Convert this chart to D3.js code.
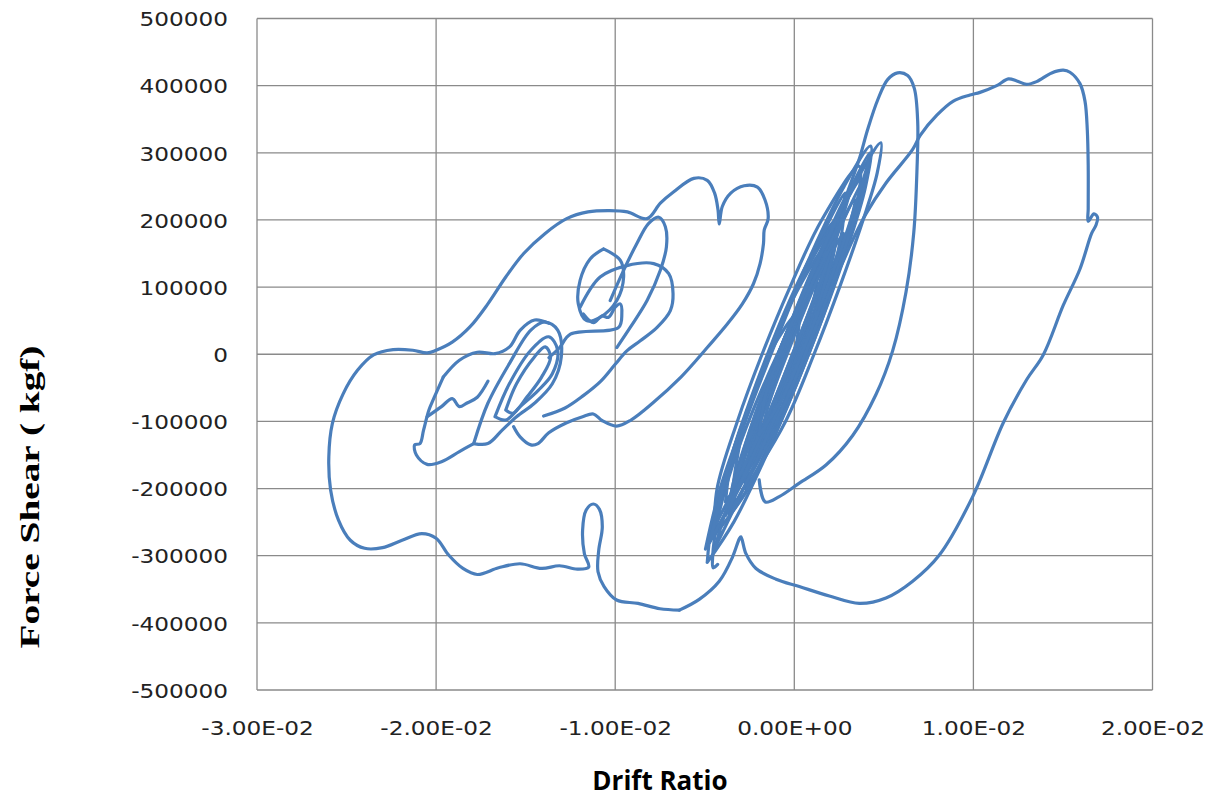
<!DOCTYPE html>
<html>
<head>
<meta charset="utf-8">
<script src="https://cdn.jsdelivr.net/npm/d3@7"></script>
<style>
  body { margin: 0; background: #fff; }
  .tick text { font-family: "DejaVu Sans", Verdana, sans-serif; }
</style>
</head>
<body>
<svg id="chart"></svg>
<script>
// axis ticks
var driftTicks = [-0.03, -0.02, -0.01, 0, 0.01, 0.02];
var driftLabels = ["-3.00E-02", "-2.00E-02", "-1.00E-02", "0.00E+00", "1.00E-02", "2.00E-02"];
var forceTicks = [-500000, -400000, -300000, -200000, -100000, 0, 100000, 200000, 300000, 400000, 500000];

// trace of the response, [drift ratio, shear force kgf], split in strokes
// outer envelope on the right: from bottom notch round the positive side
var rightLoop = [
  [-0.00642, -381000], [-0.00531, -365000], [-0.00419, -338000], [-0.00345, -302000], [-0.00307, -275000],
  [-0.00298, -272000], [-0.0027, -297000], [-0.00214, -319000], [-0.00102, -335000], [0.00028, -346000],
  [0.00196, -360000], [0.00363, -371000], [0.00512, -363000], [0.00661, -338000], [0.0081, -299000],
  [0.00996, -212000], [0.01167, -102000], [0.01297, -38000], [0.0139, -1000], [0.01502, 73000],
  [0.01595, 127000], [0.0166, 180000], [0.01684, 192000], [0.01693, 204000], [0.01673, 209000],
  [0.01641, 198000], [0.01641, 217000], [0.01641, 281000], [0.01636, 334000], [0.01623, 377000],
  [0.01595, 403000], [0.01539, 420000], [0.01502, 423000], [0.01437, 419000], [0.01353, 406000],
  [0.01297, 402000], [0.01242, 407000], [0.01195, 410000], [0.0113, 400000], [0.01037, 390000],
  [0.00981, 386000], [0.00888, 377000], [0.00796, 356000], [0.00703, 326000], [0.00661, 305000],
  [0.00512, 255000], [0.004, 209000], [0.00326, 170000], [0.00251, 126000], [0.00158, 82000]
];

// outer envelope on the left, the arc over the top and the heart shaped lobes
var leftLoop = [
  [-0.00642, -381000], [-0.0075, -379000], [-0.00872, -371000], [-0.00992, -366000], [-0.01062, -346000],
  [-0.01096, -324000], [-0.01092, -292000], [-0.01072, -257000], [-0.01088, -231000], [-0.01122, -223000],
  [-0.01162, -232000], [-0.01182, -262000], [-0.01172, -297000], [-0.01148, -317000], [-0.01212, -320000],
  [-0.01311, -315000], [-0.01411, -319000], [-0.01531, -312000], [-0.01651, -318000], [-0.0177, -328000],
  [-0.0185, -319000], [-0.0193, -299000], [-0.02, -274000], [-0.0208, -267000], [-0.0219, -277000],
  [-0.02299, -288000], [-0.02399, -289000], [-0.02479, -277000], [-0.02545, -247000], [-0.02589, -202000],
  [-0.02599, -153000], [-0.02579, -103000], [-0.02519, -59000], [-0.02439, -24000], [-0.02349, -1000],
  [-0.0224, 7000], [-0.0213, 6000], [-0.0205, 2000], [-0.02, 6000], [-0.0191, 18000],
  [-0.0181, 41000], [-0.01711, 75000], [-0.01611, 115000], [-0.01511, 150000], [-0.01391, 180000],
  [-0.01271, 202000], [-0.01152, 212000], [-0.01032, 214000], [-0.00932, 212000], [-0.00822, 202000],
  [-0.00748, 225000], [-0.00673, 242000], [-0.00561, 262000], [-0.00486, 259000], [-0.00445, 240000],
  [-0.00426, 215000], [-0.00419, 194000], [-0.00402, 220000], [-0.00355, 240000], [-0.0028, 251000],
  [-0.00206, 249000], [-0.00164, 230000], [-0.00146, 202000], [-0.00168, 185000], [-0.00172, 165000],
  [-0.00191, 135000], [-0.00228, 105000], [-0.0029, 75000], [-0.00374, 45000], [-0.00486, 10000],
  [-0.00551, -10000], [-0.00633, -34000], [-0.00792, -73000], [-0.00912, -98000], [-0.00992, -107000],
  [-0.01072, -99000], [-0.01122, -89000], [-0.01182, -93000], [-0.01271, -102000], [-0.01371, -117000],
  [-0.01431, -133000], [-0.01471, -135000], [-0.01531, -123000], [-0.01567, -108000]
];

// tall loop reaching 420000 near +0.0065
var tallLoop = [
  [-0.00196, -187000], [-0.00162, -220000], [-0.00084, -212000], [0.00028, -192000], [0.00177, -165000],
  [0.00326, -121000], [0.00456, -60000], [0.00549, 5000], [0.00624, 93000], [0.00667, 181000],
  [0.00685, 275000], [0.00689, 346000], [0.0067, 396000], [0.00633, 415000], [0.00577, 419000],
  [0.00521, 409000], [0.00466, 379000], [0.0041, 335000], [0.00363, 291000], [0.00298, 242000],
  [0.00214, 181000], [0.00102, 115000], [-0.00028, 38000], [-0.00158, -38000], [-0.0027, -110000],
  [-0.00363, -181000], [-0.00428, -247000], [-0.00456, -302000], [-0.00453, -318000], [-0.00428, -313000]
];

// small cycles round the origin
var blade1 = [[-0.00486, -310000], [-0.00338, -250000], [-0.00156, -150000], [0.0008, 0], [0.00286, 150000], [0.00398, 250000], [0.00426, 310000], [0.00278, 250000], [0.00096, 150000], [-0.0014, 0], [-0.00346, -150000], [-0.00458, -250000], [-0.00486, -310000]];
var blade2 = [[-0.00363, -240000], [-0.0026, -200000], [-0.00084, -100000], [0.0007, 0], [0.00211, 100000], [0.00335, 200000], [0.00372, 260000], [0.00233, 200000], [0.00063, 100000], [-0.0009, 0], [-0.0023, -100000], [-0.00348, -200000], [-0.00363, -240000]];
var blade3 = [[-0.00384, -220000], [-0.00215, -150000], [-0.00085, -75000], [0.0003, 0], [0.00134, 75000], [0.0022, 150000], [0.00234, 200000], [0.00102, 150000], [-0.00034, 75000], [-0.0015, 0], [-0.00255, -75000], [-0.00347, -150000], [-0.00384, -220000]];
var blade4 = [[-0.00251, -150000], [-0.00088, -75000], [0.0003, 0], [0.00132, 75000], [0.00191, 150000], [0.00028, 75000], [-0.0009, 0], [-0.00192, -75000], [-0.00251, -150000]];
var blade5 = [[-0.00447, -270000], [-0.00257, -200000], [-0.00076, -100000], [0.0008, 0], [0.00218, 100000], [0.00335, 200000], [0.00362, 280000], [0.00153, 200000], [-0.00024, 100000], [-0.0018, 0], [-0.00318, -100000], [-0.00431, -200000], [-0.00447, -270000]];
var blade6 = [[-0.0028, -190000], [-0.00208, -160000], [-0.00105, -100000], [0.0005, 0], [0.00192, 100000], [0.00296, 180000], [0.00338, 230000], [0.00234, 180000], [0.00102, 100000], [-0.0005, 0], [-0.00189, -100000], [-0.00262, -160000], [-0.0028, -190000]];
var blade7 = [[-0.00231, -130000], [-0.00083, -60000], [0.0001, 0], [0.0009, 60000], [0.00122, 110000], [0.00006, 60000], [-0.0009, 0], [-0.00173, -60000], [-0.00231, -130000]];
var blade8 = [[-0.00274, -200000], [-0.00049, -100000], [0.0011, 0], [0.00253, 100000], [0.00384, 200000], [0.00463, 270000], [0.00483, 315000], [0.00371, 270000], [0.00244, 200000], [0.00082, 100000], [-0.0007, 0], [-0.00205, -100000], [-0.00274, -200000]];
var blade9 = [[-0.00496, -290000], [-0.00314, -200000], [-0.00151, -100000], [0, 0], [0.00018, 60000], [-0.0014, 0], [-0.00283, -100000], [-0.00414, -200000], [-0.00496, -290000]];
var blade10 = [[-0.00285, -180000], [-0.00117, -90000], [0.0002, 0], [0.00157, 90000], [0.00275, 180000], [0.00087, 90000], [-0.0006, 0], [-0.00187, -90000], [-0.00285, -180000]];
var blade11 = [[-0.00452, -260000], [-0.00209, -130000], [-0.0001, 0], [0.00158, 120000], [0.00283, 240000], [0.00054, 120000], [-0.0013, 0], [-0.00313, -130000], [-0.00452, -260000]];
var blade12 = [[-0.00348, -230000], [-0.00118, -115000], [0.0006, 0], [0.00264, 145000], [0.00416, 290000], [0.00142, 145000], [-0.0008, 0], [-0.0024, -115000], [-0.00348, -230000]];
var blade13 = [[-0.00349, -210000], [-0.00107, -105000], [0.0006, 0], [0.00201, 105000], [0.00269, 210000], [0.00027, 105000], [-0.0014, 0], [-0.00281, -105000], [-0.00349, -210000]];
var blade14 = [[-0.00472, -280000], [-0.00196, -140000], [0.0002, 0], [0.00128, 80000], [0.00175, 160000], [-0.00012, 80000], [-0.0014, 0], [-0.00336, -140000], [-0.00472, -280000]];
var blade15 = [[-0.00211, -150000], [-0.00057, -75000], [0.0006, 0], [0.00252, 135000], [0.00407, 270000], [0.00166, 135000], [-0.0004, 0], [-0.00143, -75000], [-0.00211, -150000]];
var blade16 = [[-0.00383, -240000], [-0.0018, -120000], [0, 0], [0.00143, 100000], [0.00264, 200000], [0.00091, 100000], [-0.0006, 0], [-0.00232, -120000], [-0.00383, -240000]];
var blade17 = [[-0.00344, -200000], [-0.00162, -100000], [-0.0001, 0], [0.00169, 125000], [0.00318, 250000], [0.00099, 125000], [-0.0009, 0], [-0.00232, -100000], [-0.00344, -200000]];
var blade18 = [[-0.00446, -290000], [-0.00189, -145000], [0.0003, 0], [0.00148, 85000], [0.0023, 170000], [0.00062, 85000], [-0.0007, 0], [-0.00277, -145000], [-0.00446, -290000]];
var blade19 = [[-0.00196, -120000], [-0.00056, -60000], [0.0004, 0], [0.00253, 150000], [0.00421, 300000], [0.00149, 150000], [-0.0008, 0], [-0.0016, -60000], [-0.00196, -120000]];

// cycles inside the left cloud
var innerD1 = [[-0.0179, -133000], [-0.01711, -73000], [-0.01591, -14000], [-0.01471, 36000], [-0.01391, 48000], [-0.01321, 36000], [-0.01301, -4000], [-0.01351, -44000], [-0.01451, -73000], [-0.01551, -93000], [-0.01631, -113000], [-0.01711, -133000], [-0.0179, -133000]];
var innerD2 = [[-0.01671, -93000], [-0.01591, -44000], [-0.01471, 6000], [-0.01371, 26000], [-0.01321, 6000], [-0.01351, -29000], [-0.01431, -54000], [-0.01531, -78000], [-0.01611, -98000], [-0.01671, -93000]];
var innerD3 = [[-0.01611, -83000], [-0.01551, -44000], [-0.01451, -4000], [-0.01391, 11000], [-0.01361, -4000], [-0.01411, -34000], [-0.01491, -63000], [-0.01571, -88000], [-0.01611, -83000]];
var lobeTall = [[-0.01028, 80000], [-0.00953, 125000], [-0.00879, 165000], [-0.00813, 195000], [-0.00757, 204000], [-0.0072, 190000], [-0.00714, 160000], [-0.00748, 125000], [-0.00822, 80000], [-0.00916, 40000], [-0.00991, 10000]];
var lobeLow = [[-0.01196, 70000], [-0.01084, 115000], [-0.00935, 132000], [-0.00785, 135000], [-0.00701, 120000], [-0.00677, 90000], [-0.00692, 65000], [-0.00766, 40000], [-0.0086, 20000], [-0.00935, 5000], [-0.01, -15000], [-0.0108, -40000], [-0.0118, -62000], [-0.0128, -80000], [-0.014, -92000]];
var circleLoop = [[-0.01065, 157000], [-0.00972, 140000], [-0.00953, 115000], [-0.00991, 80000], [-0.01084, 55000], [-0.0116, 50000], [-0.01206, 75000], [-0.01196, 110000], [-0.0114, 142000], [-0.01065, 157000]];
var wiggle = [[-0.01178, 60000], [-0.01121, 47000], [-0.01075, 57000], [-0.01037, 55000], [-0.01, 70000], [-0.00972, 75000], [-0.00963, 60000], [-0.00981, 40000], [-0.0125, 30000], [-0.0131, 10000], [-0.0137, -5000]];
var tailLoop = [[-0.0179, -133000], [-0.0187, -145000], [-0.0197, -160000], [-0.0205, -164000], [-0.0211, -150000], [-0.0212, -135000], [-0.0209, -133000], [-0.0207, -113000], [-0.0204, -83000], [-0.0201, -64000], [-0.0196, -34000]];
var tailWave = [[-0.0205, -93000], [-0.0197, -78000], [-0.0191, -66000], [-0.0187, -78000], [-0.0183, -73000], [-0.0177, -64000], [-0.0171, -40000]];
var tailRise = [[-0.0196, -34000], [-0.0187, -9000], [-0.0177, 3000], [-0.0167, 1000], [-0.0159, 11000], [-0.0153, 36000], [-0.0145, 51000], [-0.0137, 46000]];

var strokes = [rightLoop, leftLoop, tallLoop,
  blade1, blade2, blade3, blade4, blade5, blade6, blade7, blade8, blade9, blade10,
  blade11, blade12, blade13, blade14, blade15, blade16, blade17, blade18, blade19,
  innerD1, innerD2, innerD3, lobeTall, lobeLow, circleLoop, wiggle, tailLoop, tailWave, tailRise];

var W = 1215, H = 799;
var plot = {left: 257, right: 1152.5, top: 18.5, bottom: 690};

var svg = d3.select('#chart').attr('width', W).attr('height', H);
svg.append('rect').attr('width', W).attr('height', H).attr('fill', '#ffffff');

var x = d3.scaleLinear().domain([-0.03, 0.02]).range([plot.left, plot.right]);
var y = d3.scaleLinear().domain([-500000, 500000]).range([plot.bottom, plot.top]);

// grid
var grid = svg.append('g').attr('stroke', '#8a8a8a').attr('stroke-width', 1.3);
grid.selectAll('line.gx').data(driftTicks).enter().append('line')
  .attr('x1', function (d) { return x(d); }).attr('x2', function (d) { return x(d); })
  .attr('y1', plot.top).attr('y2', plot.bottom);
grid.selectAll('line.gy').data(forceTicks).enter().append('line')
  .attr('x1', plot.left).attr('x2', plot.right)
  .attr('y1', function (d) { return y(d); }).attr('y2', function (d) { return y(d); });

// axes (labels only, the grid draws the lines)
var xAxis = d3.axisBottom(x).tickValues(driftTicks).tickSize(0)
  .tickFormat(function (d, i) { return driftLabels[i]; });
var gx = svg.append('g').attr('transform', 'translate(0,' + plot.bottom + ')').call(xAxis);
gx.select('.domain').remove();
gx.selectAll('text').attr('y', 0).attr('dy', 0)
  .attr('transform', 'translate(0,45) scale(1.16,1)')
  .attr('font-size', 20).attr('fill', '#222');

var yAxis = d3.axisLeft(y).tickValues(forceTicks).tickSize(0)
  .tickFormat(function (d) { return String(d); });
var gy = svg.append('g').attr('transform', 'translate(' + plot.left + ',0)').call(yAxis);
gy.select('.domain').remove();
gy.selectAll('text').attr('x', 0).attr('dy', '0.36em')
  .attr('transform', 'translate(-29,0) scale(1.16,1)')
  .attr('font-size', 20).attr('fill', '#222');

// the trace
var line = d3.line()
  .x(function (d) { return x(d[0]); })
  .y(function (d) { return y(d[1]); })
  .curve(d3.curveCatmullRom.alpha(0.5));

svg.append('g').selectAll('path').data(strokes).enter().append('path')
  .attr('d', line)
  .attr('fill', 'none')
  .attr('stroke', '#4a7ebb')
  .attr('stroke-width', 3.2)
  .attr('stroke-linejoin', 'round')
  .attr('stroke-linecap', 'round');

// titles
svg.append('text')
  .attr('x', 660).attr('y', 790)
  .attr('text-anchor', 'middle')
  .attr('font-family', '"Open Sans", sans-serif')
  .attr('font-weight', 'bold').attr('font-size', 26)
  .attr('fill', '#000')
  .text('Drift Ratio');

svg.append('text')
  .attr('transform', 'translate(39,497) rotate(-90)')
  .attr('text-anchor', 'middle')
  .attr('font-family', '"Liberation Serif", "Times New Roman", serif')
  .attr('font-weight', 'bold').attr('font-size', 27)
  .attr('textLength', 303).attr('lengthAdjust', 'spacingAndGlyphs')
  .attr('fill', '#000')
  .text('Force Shear ( kgf)');
</script>
</body>
</html>
